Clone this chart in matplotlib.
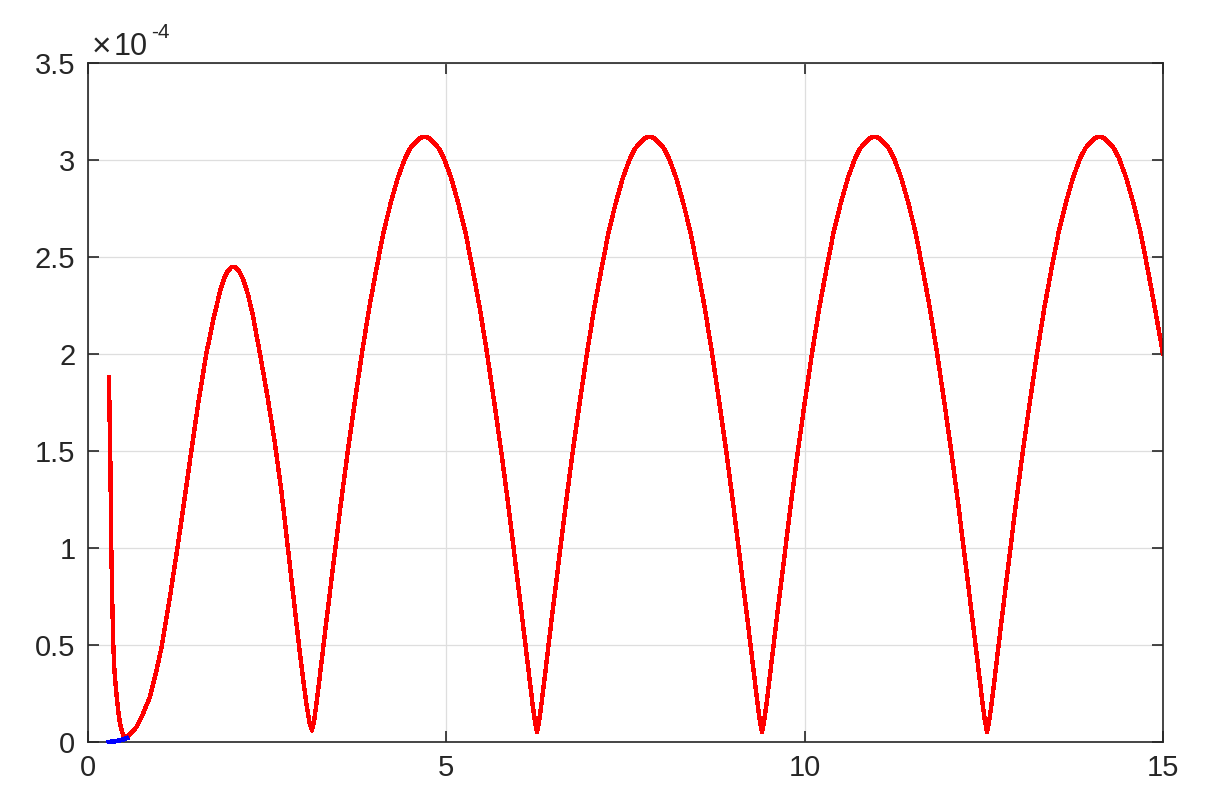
import matplotlib
matplotlib.use("Agg")
import matplotlib.pyplot as plt

# ---- data (y values in units of 1e-4) ----
x_blue = [0.29, 0.35, 0.40, 0.45, 0.50, 0.54]
y_blue = [0.000, 0.002, 0.005, 0.009, 0.014, 0.020]

x_red_l1 = [0.293, 0.300, 0.310, 0.325, 0.340, 0.353, 0.370, 0.400, 0.425, 0.446,
            0.470, 0.490, 0.516, 0.550, 0.600, 0.680, 0.750, 0.865, 0.950, 1.030,
            1.140, 1.246, 1.330, 1.430, 1.540, 1.650, 1.750, 1.850, 1.900, 1.950,
            2.000, 2.030, 2.070, 2.120, 2.170, 2.230, 2.300, 2.400, 2.500, 2.600,
            2.700, 2.780, 2.860, 2.940, 3.000, 3.050, 3.090]
y_red_l1 = [1.88, 1.70, 1.50, 1.00, 0.70, 0.50, 0.36, 0.233, 0.15, 0.098,
            0.060, 0.035, 0.024, 0.028, 0.045, 0.079, 0.13, 0.233, 0.36, 0.495,
            0.74, 0.995, 1.21, 1.47, 1.75, 2.00, 2.18, 2.335, 2.39, 2.428,
            2.447, 2.45, 2.444, 2.42, 2.38, 2.31, 2.20, 2.00, 1.79, 1.56,
            1.29, 1.03, 0.77, 0.51, 0.33, 0.19, 0.10]

x_red_l2 = [3.125, 3.155, 3.185, 3.225, 3.325, 3.425, 3.525, 3.625, 3.725, 3.825,
            3.925, 4.025, 4.125, 4.225, 4.325, 4.425, 4.495, 4.565, 4.635, 4.695,
            4.755, 4.825, 4.895, 4.965, 5.065, 5.165, 5.265, 5.365, 5.465, 5.565,
            5.665, 5.765, 5.865, 5.965, 6.065, 6.165, 6.205, 6.235]
y_red_l2 = [0.06, 0.11, 0.19, 0.31, 0.62, 0.92, 1.22, 1.50, 1.76, 2.01,
            2.24, 2.44, 2.63, 2.78, 2.91, 3.01, 3.06, 3.09, 3.114, 3.12,
            3.114, 3.09, 3.06, 3.01, 2.91, 2.78, 2.63, 2.44, 2.24, 2.01,
            1.76, 1.50, 1.22, 0.92, 0.62, 0.31, 0.19, 0.11]

x_red_l3 = [6.265, 6.295, 6.325, 6.365, 6.465, 6.565, 6.665, 6.765, 6.865, 6.965,
            7.065, 7.165, 7.265, 7.365, 7.465, 7.565, 7.635, 7.705, 7.775, 7.835,
            7.895, 7.965, 8.035, 8.105, 8.205, 8.305, 8.405, 8.505, 8.605, 8.705,
            8.805, 8.905, 9.005, 9.105, 9.205, 9.305, 9.345, 9.375]
y_red_l3 = [0.05, 0.11, 0.19, 0.31, 0.62, 0.92, 1.22, 1.50, 1.76, 2.01,
            2.24, 2.44, 2.63, 2.78, 2.91, 3.01, 3.06, 3.09, 3.114, 3.12,
            3.114, 3.09, 3.06, 3.01, 2.91, 2.78, 2.63, 2.44, 2.24, 2.01,
            1.76, 1.50, 1.22, 0.92, 0.62, 0.31, 0.19, 0.11]

x_red_l4 = [9.405, 9.435, 9.465, 9.505, 9.605, 9.705, 9.805, 9.905, 10.005, 10.105,
            10.205, 10.305, 10.405, 10.505, 10.605, 10.705, 10.775, 10.845, 10.915, 10.975,
            11.035, 11.105, 11.175, 11.245, 11.345, 11.445, 11.545, 11.645, 11.745, 11.845,
            11.945, 12.045, 12.145, 12.245, 12.345, 12.445, 12.485, 12.515]
y_red_l4 = [0.05, 0.11, 0.19, 0.31, 0.62, 0.92, 1.22, 1.50, 1.76, 2.01,
            2.24, 2.44, 2.63, 2.78, 2.91, 3.01, 3.06, 3.09, 3.114, 3.12,
            3.114, 3.09, 3.06, 3.01, 2.91, 2.78, 2.63, 2.44, 2.24, 2.01,
            1.76, 1.50, 1.22, 0.92, 0.62, 0.31, 0.19, 0.11]

x_red_l5 = [12.545, 12.575, 12.605, 12.645, 12.745, 12.845, 12.945, 13.045, 13.145, 13.245,
            13.345, 13.445, 13.545, 13.645, 13.745, 13.845, 13.915, 13.985, 14.055, 14.115,
            14.175, 14.245, 14.315, 14.385, 14.485, 14.585, 14.685, 14.785, 14.885, 15.000]
y_red_l5 = [0.05, 0.11, 0.19, 0.31, 0.62, 0.92, 1.22, 1.50, 1.76, 2.01,
            2.24, 2.44, 2.63, 2.78, 2.91, 3.01, 3.06, 3.09, 3.114, 3.12,
            3.114, 3.09, 3.06, 3.01, 2.91, 2.78, 2.63, 2.44, 2.24, 2.00]

x_ticks = [0, 5, 10, 15]
x_ticklabels = ["0", "5", "10", "15"]
y_ticks = [0, 0.5, 1, 1.5, 2, 2.5, 3, 3.5]
y_ticklabels = ["0", "0.5", "1", "1.5", "2", "2.5", "3", "3.5"]
exp_times = "\u00d7"
exp_base = "10"
exp_power = "-4"

x_red = x_red_l1 + x_red_l2 + x_red_l3 + x_red_l4 + x_red_l5
y_red = y_red_l1 + y_red_l2 + y_red_l3 + y_red_l4 + y_red_l5

# ---- style ----
plt.rcParams["font.family"] = ["Liberation Sans", "DejaVu Sans"]

W, H = 1211, 808
fig = plt.figure(figsize=(W / 100, H / 100), dpi=100)
ax = fig.add_axes([88 / W, (H - 742) / H, (1163 - 88) / W, (742 - 63) / H])

dark = "#262626"
ax.plot(x_red, y_red, color="#ff0000", lw=2.4, zorder=4,
        solid_joinstyle="round", antialiased=False)
ax.plot(x_blue, y_blue, color="#0000ff", lw=2.6, zorder=6, clip_on=False,
        antialiased=False)

ax.set_xlim(0, 15)
ax.set_ylim(0, 3.5)
ax.set_xticks(x_ticks)
ax.set_xticklabels(x_ticklabels)
ax.set_yticks(y_ticks)
ax.set_yticklabels(y_ticklabels)

ax.grid(True, color="#dedede", lw=0.9, zorder=0)
ax.set_axisbelow(True)
for s in ax.spines.values():
    s.set_color(dark)
    s.set_linewidth(1.2)
    s.set_zorder(5)

ax.tick_params(axis="both", which="both", direction="in", length=8, width=1.2,
               color=dark, labelcolor=dark, labelsize=21, pad=9,
               top=True, right=True)

fig.text(92 / W, (H - 56) / H, exp_times, fontsize=24, color=dark,
         ha="left", va="baseline")
fig.text(114 / W, (H - 55) / H, exp_base, fontsize=22, color=dark,
         ha="left", va="baseline")
fig.text(151 / W, (H - 38) / H, exp_power, fontsize=15, color=dark,
         ha="left", va="baseline")

fig.savefig("out.png", dpi=100)
